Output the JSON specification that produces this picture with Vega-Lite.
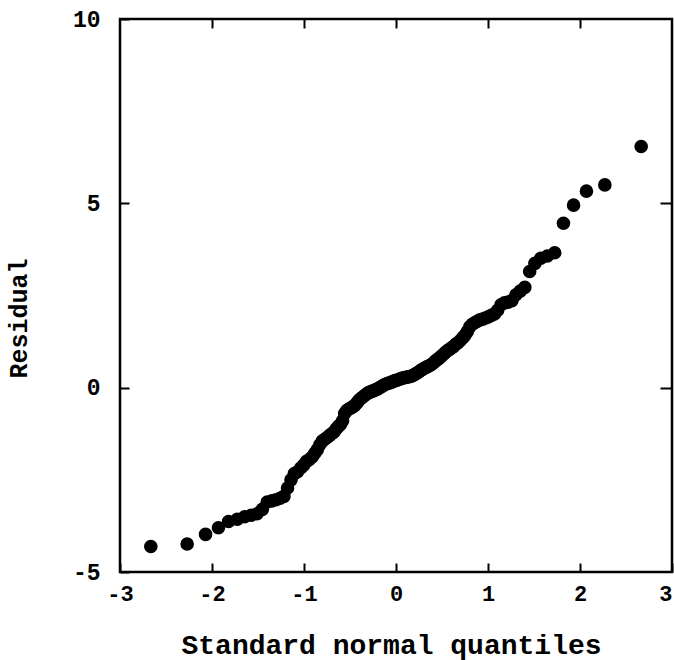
{
  "$schema": "https://vega.github.io/schema/vega-lite/v6.json",
  "width": 552,
  "height": 553,
  "autosize": "none",
  "padding": {"left": 120, "top": 19, "right": 2, "bottom": 88},
  "background": "white",
  "config": {
    "view": {"stroke": "black", "strokeWidth": 2.5},
    "font": "Liberation Mono"
  },
  "data": {
    "values": [
      {"q": -2.665, "r": -4.31}, {"q": -2.27, "r": -4.24}, {"q": -2.07, "r": -3.98}, {"q": -1.93, "r": -3.8},
      {"q": -1.82, "r": -3.63}, {"q": -1.725, "r": -3.57}, {"q": -1.645, "r": -3.5}, {"q": -1.574, "r": -3.46},
      {"q": -1.51, "r": -3.42}, {"q": -1.453, "r": -3.3}, {"q": -1.4, "r": -3.1}, {"q": -1.35, "r": -3.07},
      {"q": -1.304, "r": -3.04}, {"q": -1.26, "r": -3.0}, {"q": -1.218, "r": -2.95}, {"q": -1.179, "r": -2.72},
      {"q": -1.141, "r": -2.5}, {"q": -1.105, "r": -2.33}, {"q": -1.07, "r": -2.28}, {"q": -1.036, "r": -2.18},
      {"q": -1.004, "r": -2.1}, {"q": -0.972, "r": -2.0}, {"q": -0.942, "r": -1.95}, {"q": -0.912, "r": -1.88},
      {"q": -0.883, "r": -1.78}, {"q": -0.855, "r": -1.68}, {"q": -0.828, "r": -1.55}, {"q": -0.802, "r": -1.45},
      {"q": -0.775, "r": -1.4}, {"q": -0.749, "r": -1.35}, {"q": -0.724, "r": -1.3}, {"q": -0.699, "r": -1.25},
      {"q": -0.674, "r": -1.2}, {"q": -0.651, "r": -1.12}, {"q": -0.627, "r": -1.05}, {"q": -0.604, "r": -1.0},
      {"q": -0.581, "r": -0.9}, {"q": -0.558, "r": -0.7}, {"q": -0.535, "r": -0.62}, {"q": -0.513, "r": -0.58},
      {"q": -0.491, "r": -0.55}, {"q": -0.47, "r": -0.52}, {"q": -0.448, "r": -0.48}, {"q": -0.427, "r": -0.42},
      {"q": -0.406, "r": -0.35}, {"q": -0.385, "r": -0.3}, {"q": -0.365, "r": -0.26}, {"q": -0.344, "r": -0.22},
      {"q": -0.324, "r": -0.18}, {"q": -0.303, "r": -0.14}, {"q": -0.283, "r": -0.12}, {"q": -0.263, "r": -0.1},
      {"q": -0.243, "r": -0.08}, {"q": -0.224, "r": -0.06}, {"q": -0.204, "r": -0.04}, {"q": -0.184, "r": -0.01},
      {"q": -0.165, "r": 0.02}, {"q": -0.145, "r": 0.05}, {"q": -0.126, "r": 0.08}, {"q": -0.106, "r": 0.1},
      {"q": -0.087, "r": 0.12}, {"q": -0.068, "r": 0.13}, {"q": -0.048, "r": 0.15}, {"q": -0.029, "r": 0.17},
      {"q": -0.01, "r": 0.19},
      {"q": 0.01, "r": 0.2}, {"q": 0.029, "r": 0.22}, {"q": 0.048, "r": 0.24}, {"q": 0.068, "r": 0.26},
      {"q": 0.087, "r": 0.27}, {"q": 0.106, "r": 0.28}, {"q": 0.126, "r": 0.29}, {"q": 0.145, "r": 0.3},
      {"q": 0.165, "r": 0.31}, {"q": 0.184, "r": 0.33}, {"q": 0.204, "r": 0.36}, {"q": 0.224, "r": 0.39},
      {"q": 0.243, "r": 0.42}, {"q": 0.263, "r": 0.46}, {"q": 0.283, "r": 0.49}, {"q": 0.303, "r": 0.52},
      {"q": 0.324, "r": 0.55}, {"q": 0.344, "r": 0.57}, {"q": 0.365, "r": 0.6}, {"q": 0.385, "r": 0.63},
      {"q": 0.406, "r": 0.67}, {"q": 0.427, "r": 0.72}, {"q": 0.448, "r": 0.76}, {"q": 0.47, "r": 0.8},
      {"q": 0.491, "r": 0.85}, {"q": 0.513, "r": 0.9}, {"q": 0.535, "r": 0.95}, {"q": 0.558, "r": 1.0},
      {"q": 0.581, "r": 1.04}, {"q": 0.604, "r": 1.08}, {"q": 0.627, "r": 1.12}, {"q": 0.651, "r": 1.18},
      {"q": 0.674, "r": 1.22}, {"q": 0.699, "r": 1.28}, {"q": 0.724, "r": 1.35}, {"q": 0.749, "r": 1.42},
      {"q": 0.775, "r": 1.52}, {"q": 0.802, "r": 1.65}, {"q": 0.828, "r": 1.72}, {"q": 0.855, "r": 1.76},
      {"q": 0.883, "r": 1.8}, {"q": 0.912, "r": 1.84}, {"q": 0.942, "r": 1.86}, {"q": 0.972, "r": 1.89},
      {"q": 1.004, "r": 1.92}, {"q": 1.036, "r": 1.96}, {"q": 1.07, "r": 2.0}, {"q": 1.105, "r": 2.1},
      {"q": 1.141, "r": 2.25}, {"q": 1.179, "r": 2.3}, {"q": 1.218, "r": 2.32}, {"q": 1.26, "r": 2.36},
      {"q": 1.304, "r": 2.52}, {"q": 1.35, "r": 2.62}, {"q": 1.4, "r": 2.72}, {"q": 1.453, "r": 3.15},
      {"q": 1.51, "r": 3.37}, {"q": 1.574, "r": 3.51}, {"q": 1.645, "r": 3.57}, {"q": 1.725, "r": 3.66},
      {"q": 1.82, "r": 4.46}, {"q": 1.93, "r": 4.95}, {"q": 2.07, "r": 5.33}, {"q": 2.27, "r": 5.5},
      {"q": 2.665, "r": 6.54}
    ]
  },
  "layer": [
    {
      "mark": {"type": "point", "filled": true, "color": "black", "opacity": 1, "size": 185},
      "encoding": {
        "x": {
          "field": "q", "type": "quantitative",
          "scale": {"domain": [-3, 3], "nice": false, "zero": false},
          "axis": {
            "orient": "bottom", "values": [-3, -2, -1, 0, 1, 2, 3],
            "labelExpr": "datum.value < 0 ? '-' + abs(datum.value) : '' + datum.value",
            "domain": false, "grid": false,
            "tickSize": -9, "tickWidth": 2, "tickColor": "black",
            "labelFont": "Liberation Mono", "labelFontWeight": "bold", "labelFontSize": 22,
            "labelColor": "black", "labelPadding": 20, "labelFlush": false,
            "labelAlign": {"condition": {"test": "datum.value == 3", "value": "right"}, "value": "center"},
            "title": "Standard normal quantiles",
            "titleFont": "Liberation Mono", "titleFontWeight": "bold", "titleFontSize": 28,
            "titleColor": "black", "titleX": 271, "titleY": 81,
            "titleBaseline": "alphabetic", "titleAlign": "center", "titleAnchor": null
          }
        },
        "y": {
          "field": "r", "type": "quantitative",
          "scale": {"domain": [-5, 10], "nice": false, "zero": false},
          "axis": {
            "orient": "left", "values": [-5, 0, 5, 10],
            "labelExpr": "datum.value < 0 ? '-' + abs(datum.value) : '' + datum.value",
            "domain": false, "grid": false,
            "tickSize": -9, "tickWidth": 2, "tickColor": "black",
            "labelFont": "Liberation Mono", "labelFontWeight": "bold", "labelFontSize": 23,
            "labelColor": "black", "labelPadding": 29, "labelFlush": false,
            "labelBaseline": "middle",
            "title": "Residual",
            "titleFont": "Liberation Mono", "titleFontWeight": "bold", "titleFontSize": 25,
            "titleColor": "black", "titleAngle": -90, "titleX": -102, "titleY": 299,
            "titleBaseline": "middle", "titleAlign": "center", "titleAnchor": null
          }
        }
      }
    },
    {
      "mark": {"type": "point", "filled": true, "opacity": 0, "size": 1},
      "encoding": {
        "x": {
          "field": "q", "type": "quantitative",
          "axis": {
            "orient": "top", "values": [-2, -1, 0, 1, 2],
            "domain": false, "grid": false, "labels": false, "title": null,
            "tickSize": -9, "tickWidth": 2, "tickColor": "black"
          }
        },
        "y": {
          "field": "r", "type": "quantitative",
          "axis": {
            "orient": "right", "values": [0, 5],
            "domain": false, "grid": false, "labels": false, "title": null,
            "tickSize": -12, "tickWidth": 2, "tickColor": "black"
          }
        }
      }
    }
  ],
  "resolve": {"axis": {"x": "independent", "y": "independent"}}
}
